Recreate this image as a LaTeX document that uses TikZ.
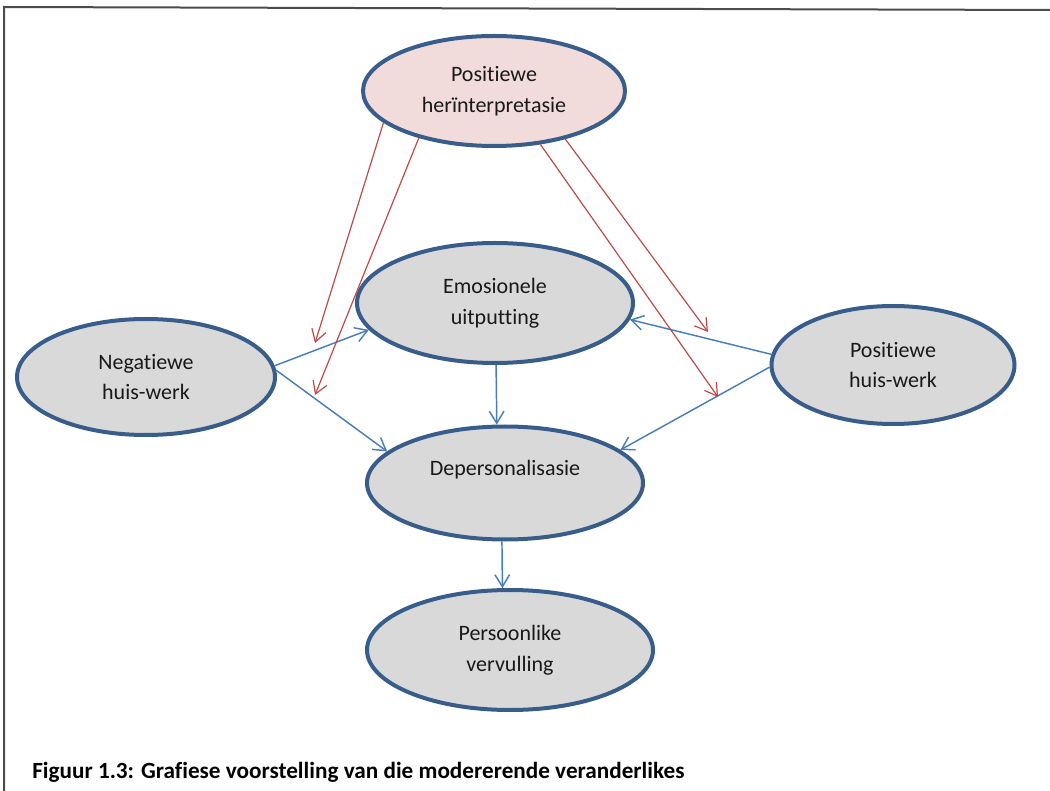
\documentclass[tikz,border=0pt]{standalone}
\usepackage{fontspec}
\setmainfont{Carlito}[Ligatures=NoCommon]
\usetikzlibrary{arrows.meta,shapes.geometric}
\definecolor{edgeblue}{HTML}{385D8A}
\definecolor{fillg}{HTML}{D9D9D9}
\definecolor{fillp}{HTML}{F2DCDB}
\definecolor{blu}{HTML}{4A7EBB}
\definecolor{rd}{HTML}{BE4B48}
\begin{document}
\begin{tikzpicture}[x=0.75pt,y=-0.75pt,
 ell/.style={ellipse, draw=edgeblue, line width=3pt, fill=fillg, inner sep=0pt, align=center, text=black!90, font=\fontsize{16.5}{23}\selectfont},
 barrow/.style={draw=blu, line width=1.1pt, -{Straight Barb[length=9pt,width=11pt]}},
 rarrow/.style={draw=rd, line width=0.9pt, -{Straight Barb[length=9pt,width=11pt]}},
]
\useasboundingbox (0,0) rectangle (1050,791);
\draw[line width=1.5pt, color=black!70] (4,791) -- (4,7) -- (1050,10);

\node[ell, fill=fillp, minimum width=196.5pt, minimum height=82.5pt] (top) at (494,91) {Positiewe\\herïnterpretasie};
\node[ell, minimum width=207pt, minimum height=90pt] (emo) at (495,303) {Emosionele\\uitputting};
\node[ell, minimum width=207pt, minimum height=84.75pt] (dep) at (505,483) {Depersonalisasie\\\mbox{}};
\node[ell, minimum width=193.5pt, minimum height=87pt] (neg) at (146,377) {Negatiewe\\huis-werk};
\node[ell, minimum width=182.25pt, minimum height=88.5pt] (pos) at (893,365) {Positiewe\\huis-werk};
\node[ell, minimum width=214.5pt, minimum height=90pt] (pers) at (510,650) {Persoonlike\\vervulling};

\draw[barrow] (neg.5) -- (emo.192);
\draw[barrow] (neg.3) -- (dep.165);
\draw[barrow] (emo.271) -- (dep.98);
\draw[barrow] (dep.267) -- (pers.97);
\draw[barrow] (pos.175) -- (emo.353);
\draw[barrow] (pos.181) -- (dep.16);

\coordinate (r1) at (315,343);
\coordinate (r2) at (315,395);
\coordinate (r3) at (708,332);
\coordinate (r4) at (718,397);
\draw[rarrow] (top.196) -- (r1);
\draw[rarrow] (top.212) -- (r2);
\draw[rarrow] (top.326) -- (r3);
\draw[rarrow] (top.311) -- (r4);

\node[anchor=west, inner sep=0pt, font=\bfseries\fontsize{17.4}{20}\selectfont, text=black] (cap) at (32,772) {Figuur 1.3: Grafiese voorstelling van die modererende veranderlikes};
\end{tikzpicture}
\end{document}
